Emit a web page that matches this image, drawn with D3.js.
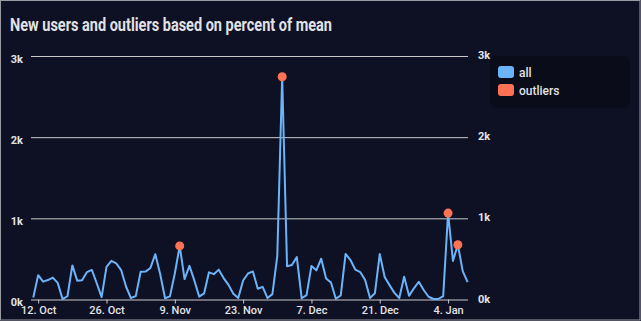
<!DOCTYPE html>
<html>
<head>
<meta charset="utf-8">
<script src="https://cdn.jsdelivr.net/npm/d3@7/dist/d3.min.js"></script>
<style>
  html, body { margin: 0; padding: 0; background: #0e1124; }
  svg { display: block; font-family: Roboto, "Noto Sans", sans-serif; }
</style>
</head>
<body>
<svg id="chart" width="641" height="321"></svg>
<script>
// Daily new users, starting 11 Oct 2020
const startDate = "2020-10-11";
const newUsers = [
  25, 300, 220, 240, 270, 205, 5, 40, 420, 232,
  238, 338, 364, 200, 30, 402, 476, 445, 363, 160,
  18, 42, 342, 344, 389, 558, 314, 16, 38, 320,
  660, 252, 414, 235, 35, 75, 335, 312, 368, 264,
  180, 70, 18, 234, 320, 346, 133, 156, 18, 66,
  537, 2745, 410, 426, 522, 15, 54, 414, 359, 502,
  260, 209, 10, 49, 562, 486, 367, 338, 240, 18,
  76, 560, 277, 177, 82, 18, 281, 45, 138, 219,
  117, 34, 6, 6, 42, 1065, 475, 675, 350, 215
];
// Days flagged as outliers (far above the mean)
const outlierDates = ["2020-11-10", "2020-12-01", "2021-01-04", "2021-01-06"];
// Axis ticks
const yTicks = [0, 1000, 2000, 3000];
const yTickLabels = ["0k", "1k", "2k", "3k"];
const xTickDates = ["2020-10-12", "2020-10-26", "2020-11-09", "2020-11-23", "2020-12-07", "2020-12-21", "2021-01-04"];
const seriesNames = ["all", "outliers"];

const colors = { line: "#6cb4fa", outlier: "#fd7255", grid: "#cacacd", text: "#e2e2e6", bg: "#0e1124", legendBg: "#0a0c19" };

const parse = d3.utcParse("%Y-%m-%d");
const t0 = parse(startDate);
const points = newUsers.map((v, i) => ({ date: d3.utcDay.offset(t0, i), value: v }));
const outliers = outlierDates.map(s => {
  const d = parse(s);
  return points.find(p => +p.date === +d);
});

const svg = d3.select("#chart");
const W = 641, H = 321;
const plot = { left: 31, right: 468, top: 56, bottom: 299.5 };

svg.append("rect").attr("x", 0.5).attr("y", 0.5).attr("width", W - 1.5).attr("height", H - 1.5)
  .attr("fill", colors.bg).attr("stroke", "#9a9aa2").attr("stroke-width", 1);

// Title
svg.append("text")
  .attr("x", 10).attr("y", 31)
  .attr("fill", colors.text)
  .attr("font-size", 18).attr("font-weight", 700)
  .attr("textLength", 322).attr("lengthAdjust", "spacingAndGlyphs")
  .text("New users and outliers based on percent of mean");

const x = d3.scaleUtc()
  .domain(d3.extent(points, d => d.date))
  .range([33.3, 467.6]);

const y = d3.scaleLinear()
  .domain([0, 3000])
  .range([plot.bottom, plot.top]);

// Horizontal grid lines
svg.append("g")
  .attr("transform", `translate(${plot.left},0)`)
  .call(d3.axisLeft(y).tickValues(yTicks).tickSize(-(plot.right - plot.left)).tickFormat(""))
  .call(g => g.select(".domain").remove())
  .call(g => g.selectAll(".tick line").attr("stroke", colors.grid).attr("stroke-width", 1));

// Left y-axis labels
svg.append("g")
  .attr("transform", `translate(23,0)`)
  .call(d3.axisLeft(y).tickValues(yTicks).tickSize(0).tickPadding(0).tickFormat((d, i) => yTickLabels[i]))
  .call(g => g.select(".domain").remove())
  .call(g => g.selectAll("text").attr("fill", colors.text).attr("font-size", 11).attr("font-weight", 700)
    .attr("font-family", "Roboto, sans-serif").attr("dy", "0.75em").attr("y", -2));

// Right y-axis labels
svg.append("g")
  .attr("transform", `translate(478,0)`)
  .call(d3.axisRight(y).tickValues(yTicks).tickSize(0).tickPadding(0).tickFormat((d, i) => yTickLabels[i]))
  .call(g => g.select(".domain").remove())
  .call(g => g.selectAll("text").attr("fill", colors.text).attr("font-size", 11).attr("font-weight", 700)
    .attr("font-family", "Roboto, sans-serif").attr("dy", "0em").attr("y", 2.5));

// X axis
const fmt = d3.utcFormat("%-d. %b");
svg.append("g")
  .attr("transform", `translate(0,${plot.bottom})`)
  .call(d3.axisBottom(x).tickValues(xTickDates.map(parse)).tickSize(4).tickPadding(3).tickFormat(fmt))
  .call(g => g.select(".domain").remove())
  .call(g => g.selectAll(".tick line").attr("stroke", colors.grid))
  .call(g => g.selectAll("text").attr("fill", colors.text).attr("font-size", 11).attr("font-weight", 500)
    .attr("font-family", "Roboto, sans-serif"));

// Series line
const line = d3.line().x(d => x(d.date)).y(d => y(d.value));
svg.append("path")
  .datum(points)
  .attr("d", line)
  .attr("fill", "none")
  .attr("stroke", colors.line)
  .attr("stroke-width", 2)
  .attr("stroke-linejoin", "round");

// Outlier markers
svg.append("g").selectAll("circle")
  .data(outliers)
  .join("circle")
  .attr("cx", d => x(d.date))
  .attr("cy", d => y(d.value))
  .attr("r", 4.5)
  .attr("fill", colors.outlier);

// Legend
const legend = svg.append("g");
legend.append("rect")
  .attr("x", 490).attr("y", 56).attr("width", 140).attr("height", 52).attr("rx", 6)
  .attr("fill", colors.legendBg);
const legendColors = [colors.line, colors.outlier];
seriesNames.forEach((name, i) => {
  legend.append("rect")
    .attr("x", 498).attr("y", 66 + i * 18).attr("width", 16).attr("height", 12).attr("rx", 3)
    .attr("fill", legendColors[i]);
  legend.append("text")
    .attr("x", 519).attr("y", 76.5 + i * 18)
    .attr("fill", colors.text).attr("font-size", 12).attr("font-weight", 500)
    .text(name);
});
</script>
</body>
</html>
